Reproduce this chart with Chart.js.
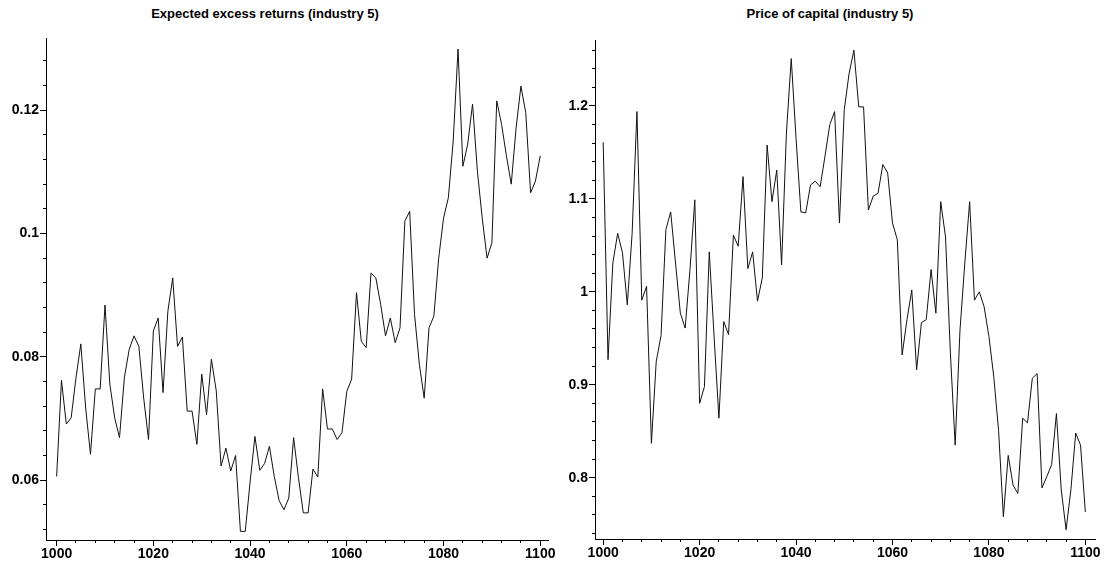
<!DOCTYPE html>
<html>
<head>
<meta charset="utf-8">
<script src="https://cdn.jsdelivr.net/npm/chart.js@4/dist/chart.umd.min.js"></script>
<style>
  body { margin: 0; background: #fff; width: 1106px; height: 564px; overflow: hidden; position: relative; }
  canvas { position: absolute; top: 0; }
  .title { position: absolute; top: 6px; font: bold 13px "Liberation Sans", Arial, sans-serif; color: #000; transform: translateX(-50%); white-space: nowrap; }
</style>
</head>
<body>
<div class="title" id="titleLeft" style="left:265px">Expected excess returns (industry 5)</div>
<div class="title" id="titleRight" style="left:830px">Price of capital (industry 5)</div>
<canvas id="leftChart" width="556" height="564" style="left:0px"></canvas>
<canvas id="rightChart" width="556" height="564" style="left:550px"></canvas>
<script>
// years 1000..1100
const years = Array.from({length: 101}, (_, i) => 1000 + i)

// expected excess returns, one value per year
const excessReturns = [
  0.0606, 0.0762, 0.0691, 0.0701, 0.0766, 0.0821, 0.0717, 0.0642, 0.0748, 0.0748,
  0.0884, 0.0756, 0.0701, 0.0669, 0.0766, 0.0812, 0.0834, 0.0817, 0.0733, 0.0666,
  0.0842, 0.0863, 0.0742, 0.0874, 0.0928, 0.0817, 0.0832, 0.0712, 0.0712, 0.0658,
  0.0772, 0.0706, 0.0796, 0.0745, 0.0623, 0.0652, 0.0615, 0.0640, 0.0517, 0.0517,
  0.0597, 0.0671, 0.0616, 0.0627, 0.0655, 0.0606, 0.0567, 0.0552, 0.0571, 0.0669,
  0.0604, 0.0547, 0.0547, 0.0618, 0.0605, 0.0748, 0.0683, 0.0683, 0.0666, 0.0677,
  0.0744, 0.0764, 0.0904, 0.0825, 0.0815, 0.0936, 0.0928, 0.0885, 0.0834, 0.0863,
  0.0823, 0.0847, 0.1020, 0.1036, 0.0869, 0.0788, 0.0733, 0.0847, 0.0866, 0.0960,
  0.1025, 0.1058, 0.1150, 0.1299, 0.1109, 0.1145, 0.1210, 0.1101, 0.1025, 0.0960,
  0.0985, 0.1215, 0.1177, 0.1126, 0.1080, 0.1171, 0.1239, 0.1196, 0.1066, 0.1085,
  0.1126
]

// price of capital, one value per year
const capitalPrice = [
  1.161, 0.927, 1.031, 1.063, 1.042, 0.986, 1.063, 1.194, 0.991, 1.006,
  0.837, 0.925, 0.953, 1.067, 1.086, 1.031, 0.977, 0.961, 1.024, 1.099,
  0.880, 0.898, 1.043, 0.952, 0.864, 0.968, 0.954, 1.061, 1.049, 1.124,
  1.025, 1.043, 0.990, 1.015, 1.158, 1.097, 1.131, 1.029, 1.171, 1.251,
  1.165, 1.086, 1.085, 1.115, 1.119, 1.113, 1.146, 1.180, 1.194, 1.074,
  1.196, 1.235, 1.260, 1.199, 1.199, 1.088, 1.103, 1.106, 1.137, 1.128,
  1.074, 1.056, 0.932, 0.970, 1.002, 0.916, 0.967, 0.970, 1.024, 0.977,
  1.097, 1.059, 0.935, 0.835, 0.959, 1.031, 1.097, 0.991, 1.000, 0.984,
  0.952, 0.909, 0.851, 0.758, 0.824, 0.792, 0.783, 0.864, 0.859, 0.907,
  0.912, 0.789, 0.801, 0.814, 0.869, 0.787, 0.744, 0.787, 0.848, 0.835,
  0.763
]

// tick values and labels
const xMajor = [1000, 1020, 1040, 1060, 1080, 1100]
const xLabels = ['1000', '1020', '1040', '1060', '1080', '1100']
const leftYMajor = [0.06, 0.08, 0.1, 0.12]
const leftYLabels = ['0.06', '0.08', '0.1', '0.12']
const rightYMajor = [0.8, 0.9, 1, 1.1, 1.2]
const rightYLabels = ['0.8', '0.9', '1', '1.1', '1.2']

function steps(from, to, step) {
    var out = []
    var n = Math.round((to - from) / step)
    for (var i = 0; i <= n; i++) out.push(Math.round((from + i * step) * 10000) / 10000)
    return out
}

const xMinor = steps(1000, 1100, 4)
const leftYMinor = steps(0.052, 0.128, 0.004)
const rightYMinor = steps(0.74, 1.26, 0.02)

const tickFont = { family: '"Liberation Sans", Arial, sans-serif', size: 14, weight: 'bold' }

function makeChart(canvasId, values, o) {
    var points = years.map((yr, i) => ({ x: yr, y: values[i] }))
    return new Chart(document.getElementById(canvasId), {
        type: 'line',
        data: {
            datasets: [{
                data: points,
                borderColor: '#111',
                borderWidth: 1,
                pointRadius: 0,
                tension: 0,
                xAxisID: 'x',
                yAxisID: 'y'
            }]
        },
        options: {
            responsive: false,
            animation: false,
            devicePixelRatio: 1,
            layout: { padding: { left: 0, right: o.padRight, top: o.top, bottom: 0 } },
            plugins: { legend: { display: false }, tooltip: { enabled: false }, title: { display: false } },
            scales: {
                // minor ticks only, stacked on the main axis
                x2: {
                    type: 'linear', position: 'bottom', weight: 0,
                    min: o.xMin, max: o.xMax,
                    afterBuildTicks: (s) => { s.ticks = xMinor.map(v => ({ value: v })) },
                    afterFit: (s) => { s.height = 0; s.paddingLeft = 0; s.paddingRight = 0 },
                    ticks: { display: false },
                    grid: { drawOnChartArea: false, tickLength: 3, tickColor: '#000' },
                    border: { display: false }
                },
                x: {
                    type: 'linear', position: 'bottom', weight: 1,
                    min: o.xMin, max: o.xMax,
                    afterBuildTicks: (s) => { s.ticks = xMajor.map(v => ({ value: v })) },
                    afterFit: (s) => { s.height = o.xHeight; s.paddingLeft = 0; s.paddingRight = 0 },
                    ticks: {
                        font: tickFont, color: '#000', padding: 0, maxRotation: 0, autoSkip: false,
                        callback: (v, i) => xLabels[i]
                    },
                    grid: { drawOnChartArea: false, tickLength: 6, tickColor: '#000' },
                    border: { color: '#000', width: 1 }
                },
                y2: {
                    type: 'linear', position: 'left', weight: 0,
                    min: o.yMin, max: o.yMax,
                    afterBuildTicks: (s) => { s.ticks = o.yMinor.map(v => ({ value: v })) },
                    afterFit: (s) => { s.width = 0; s.paddingTop = 0; s.paddingBottom = 0 },
                    ticks: { display: false },
                    grid: { drawOnChartArea: false, tickLength: 3, tickColor: '#000' },
                    border: { display: false }
                },
                y: {
                    type: 'linear', position: 'left', weight: 1,
                    min: o.yMin, max: o.yMax,
                    afterBuildTicks: (s) => { s.ticks = o.yMajor.map(v => ({ value: v })) },
                    afterFit: (s) => { s.width = o.yWidth; s.paddingTop = 0; s.paddingBottom = 0 },
                    ticks: {
                        font: tickFont, color: '#000', padding: 1,
                        callback: (v, i) => o.yLabels[i]
                    },
                    grid: { drawOnChartArea: false, tickLength: 6, tickColor: '#000' },
                    border: { color: '#000', width: 1 }
                }
            }
        }
    })
}

makeChart('leftChart', excessReturns, {
    xMin: 997.8, xMax: 1101.6, yMin: 0.0503, yMax: 0.1317,
    yMajor: leftYMajor, yLabels: leftYLabels, yMinor: leftYMinor,
    yWidth: 46, padRight: 8, top: 38, xHeight: 24
})

makeChart('rightChart', capitalPrice, {
    xMin: 998.3, xMax: 1102, yMin: 0.734, yMax: 1.271,
    yMajor: rightYMajor, yLabels: rightYLabels, yMinor: rightYMinor,
    yWidth: 45, padRight: 11, top: 40, xHeight: 25
})
</script>
</body>
</html>
